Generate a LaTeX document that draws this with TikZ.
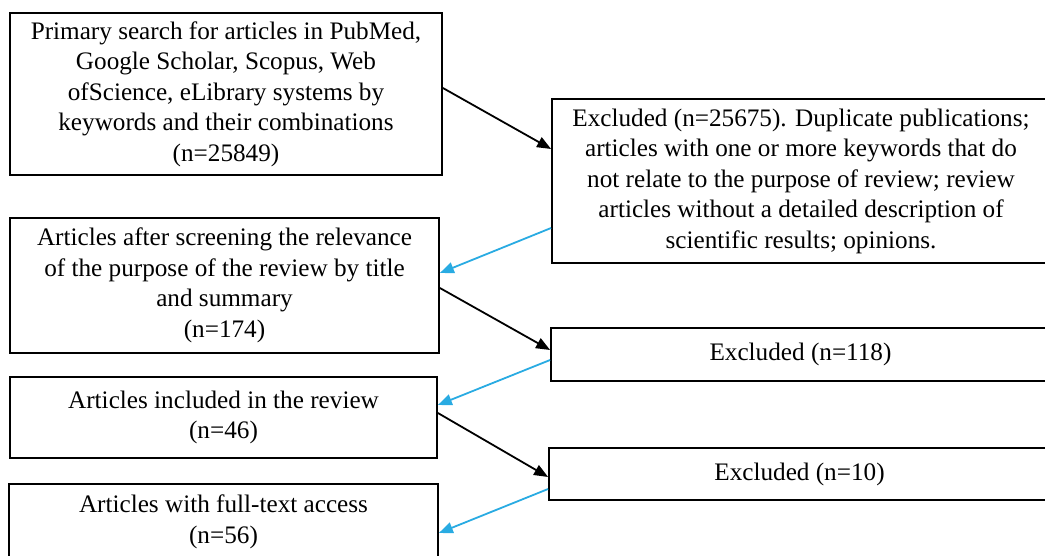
\documentclass[tikz,border=0pt]{standalone}
\usepackage{fontspec}
\setmainfont{Liberation Serif}
\usetikzlibrary{arrows.meta}
\definecolor{skyarrow}{RGB}{41,171,226}

\begin{document}
\begin{tikzpicture}[x=1pt, y=-1pt,
  flowbox/.style={draw, line width=1.8pt, rectangle, inner sep=0, align=center,
    font=\fontsize{25.2}{30.5}\selectfont},
  toexcl/.style={-{Triangle[length=14pt, width=11pt]}, line width=1.8pt},
  fromexcl/.style={-{Triangle[length=14pt, width=11pt]}, line width=1.8pt, skyarrow}]

  \useasboundingbox (0, 0) rectangle (1045, 556);

  % 左列：保留的文章
  \node[flowbox, minimum width=432, minimum height=162] (search) at (226, 94)
    {Primary search for articles in PubMed,\\ Google Scholar, Scopus, Web\\ ofScience, eLibrary systems by\\ keywords and their combinations\\ (n=25849)};
  \node[flowbox, minimum width=429, minimum height=135] (screen) at (224.5, 285.5)
    {Articles after screening the relevance\\ of the purpose of the review by title\\ and summary\\ (n=174)};
  \node[flowbox, minimum width=427, minimum height=81] (incl) at (223.5, 417.5)
    {Articles included in the review\\ (n=46)};
  \node[flowbox, minimum width=429, minimum height=76] (full) at (223.5, 522)
    {Articles with full-text access\\ (n=56)};

  % 右列：排除的文章
  \node[flowbox, minimum width=498, minimum height=164] (excla) at (801, 181)
    {Excluded (n=25675). Duplicate publications;\\ articles with one or more keywords that do\\ not relate to the purpose of review; review\\ articles without a detailed description of\\ scientific results; opinions.};
  \node[flowbox, minimum width=499, minimum height=53] (exclb) at (800.5, 354.5)
    {Excluded (n=118)};
  \node[flowbox, minimum width=501, minimum height=52] (exclc) at (799.5, 474)
    {Excluded (n=10)};

  % 箭头
  \draw[toexcl] ([yshift=6pt]search.east) -- ([yshift=32pt]excla.west);
  \draw[fromexcl] ([yshift=-47pt]excla.west) -- ([yshift=12.5pt]screen.east);
  \draw[toexcl] ([yshift=-2.5pt]screen.east) -- ([yshift=4.5pt]exclb.west);
  \draw[fromexcl] ([yshift=-5.5pt]exclb.west) -- ([yshift=12.5pt]incl.east);
  \draw[toexcl] ([yshift=4.5pt]incl.east) -- ([yshift=-3pt]exclc.west);
  \draw[fromexcl] ([yshift=-15pt]exclc.west) -- ([yshift=-11pt]full.east);

\end{tikzpicture}
\end{document}
